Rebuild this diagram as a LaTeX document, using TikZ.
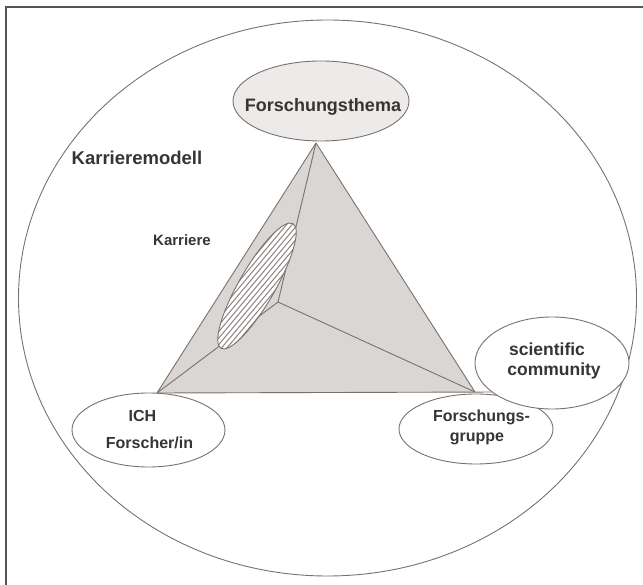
\documentclass[tikz,border=0pt]{standalone}
\usepackage{fontspec}
\setmainfont{Liberation Sans}
\usetikzlibrary{shapes.geometric,calc}
\definecolor{linec}{RGB}{122,112,110}
\definecolor{framec}{RGB}{85,85,85}
\definecolor{trifill}{RGB}{218,214,212}
\definecolor{themefill}{RGB}{237,235,234}
\definecolor{textc}{RGB}{55,52,52}
\definecolor{hatchc}{RGB}{140,132,130}
\begin{document}
\begin{tikzpicture}[x=1pt,y=-1pt,
  edge/.style={draw=linec, line width=0.9pt},
  bubble/.style={ellipse, draw=linec, line width=0.9pt, fill=white, inner sep=0pt},
  lbl/.style={anchor=base, text=textc, inner sep=0pt}]
\useasboundingbox (0,0) rectangle (643,585);

% frame edges (top and left only)
\draw[framec, line width=1.6pt] (6,585) -- (6,7.3) -- (643,7.3);

% outer model ellipse
\node[ellipse, draw=linec, line width=0.9pt, inner sep=0pt,
      minimum width=618pt, minimum height=556pt] (modell) at (327.5,298) {};

% triangle corners and inner point
\coordinate (A) at (316,143);
\coordinate (L) at (157,393);
\coordinate (R) at (475,392);
\coordinate (P) at (278,302);
\coordinate (Rext) at (500,392);

\fill[trifill] (A) -- (L) -- (R) -- cycle;
\draw[edge] (A) -- (L);
\draw[edge] (L) -- (Rext);
\draw[edge] (R) -- (A);
\draw[edge] (P) -- (A);
\draw[edge] (P) -- (L);
\draw[edge] (P) -- (R);

% hatched career ellipse
\coordinate (H) at (257,286);
\begin{scope}
  \clip[rotate around={60:(H)}] (H) ellipse [x radius=72pt, y radius=18pt];
  \fill[white] (H) circle [radius=80pt];
  \foreach \k in {-24,...,24}
    \draw[hatchc, line width=1pt, rotate around={50:(H)}]
      ($(H)+(-90pt,\k*4.2pt)$) -- ($(H)+(90pt,\k*4.2pt)$);
\end{scope}
\draw[edge, rotate around={60:(H)}] (H) ellipse [x radius=72pt, y radius=18pt];

% corner bubbles
\node[bubble, fill=themefill, minimum width=176pt, minimum height=80pt] (thema) at (321,101) {};
\node[bubble, minimum width=153pt, minimum height=74pt] (ich) at (148.5,430) {};
\node[bubble, minimum width=154pt, minimum height=70pt] (gruppe) at (476,429) {};
\node[bubble, minimum width=154pt, minimum height=92pt] (community) at (552,363) {};

% labels
\node[lbl, font=\bfseries\fontsize{18.5}{20}\selectfont] (tmodell) at (137,165) {Karrieremodell};
\node[lbl, font=\bfseries\fontsize{18}{20}\selectfont] (tthema) at (323,112) {Forschungsthema};
\node[lbl, font=\bfseries\fontsize{15}{18}\selectfont] (tkarriere) at (182,246) {Karriere};
\node[lbl, font=\bfseries\fontsize{16}{18}\selectfont] (tich) at (142.5,421) {ICH};
\node[lbl, font=\bfseries\fontsize{16}{18}\selectfont] (tforscher) at (149.5,449) {Forscher/in};
\node[lbl, font=\bfseries\fontsize{17.5}{20}\selectfont] (tsci) at (547,356) {scientific};
\node[lbl, font=\bfseries\fontsize{17.5}{20}\selectfont] (tcom) at (554,376) {community};
\node[lbl, font=\bfseries\fontsize{16}{18}\selectfont] (tfg1) at (481.5,421.5) {Forschungs-};
\node[lbl, font=\bfseries\fontsize{16}{18}\selectfont] (tfg2) at (477,441) {gruppe};
\end{tikzpicture}
\end{document}
